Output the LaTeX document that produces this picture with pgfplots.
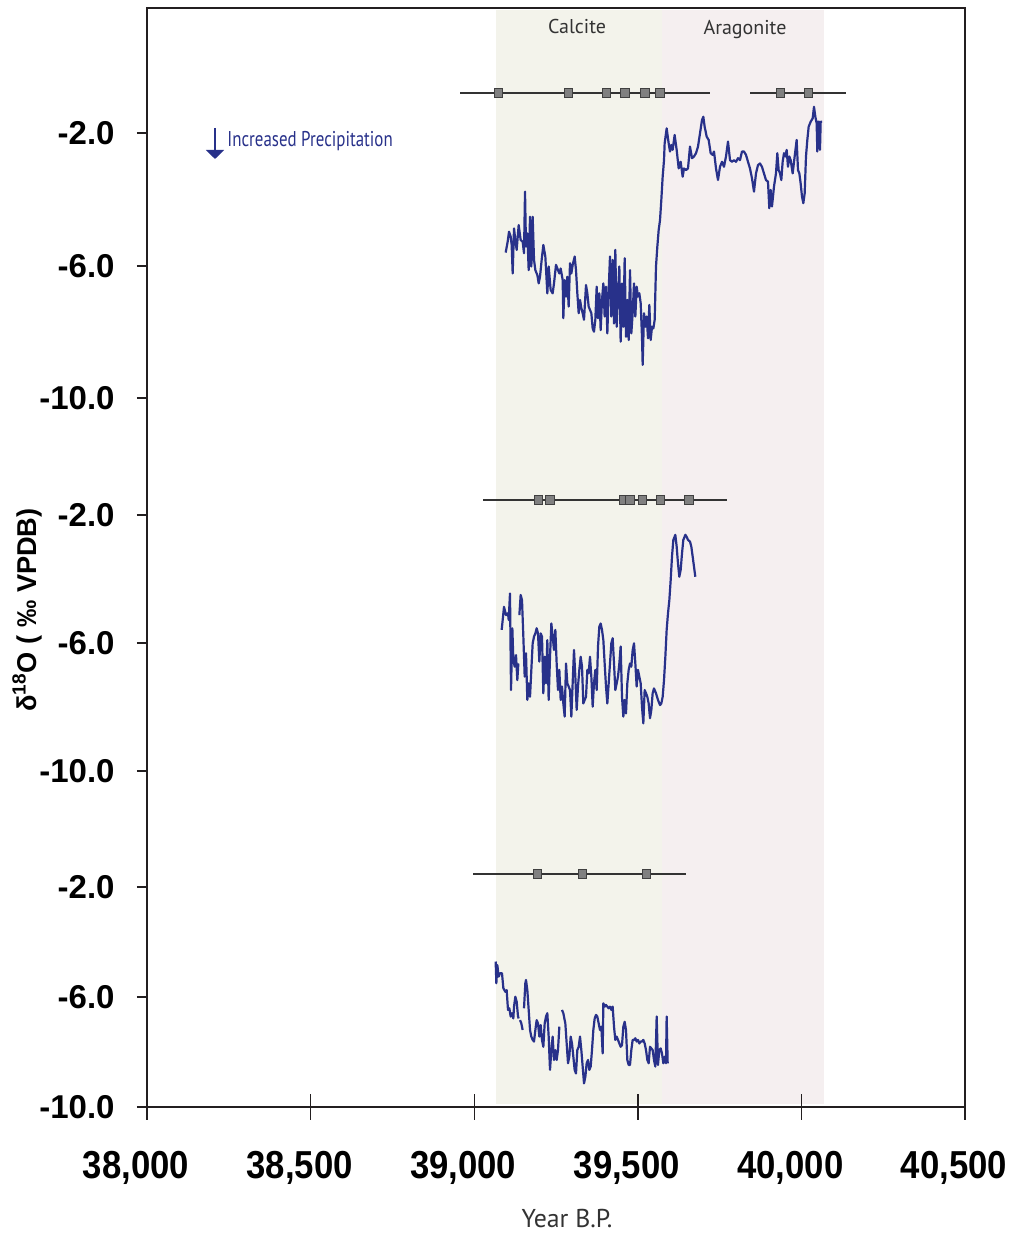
\documentclass[border=0pt]{standalone}
\usepackage{pgfplots}
\pgfplotsset{compat=1.18}
\usepackage{fontspec}
\setmainfont{Liberation Sans}
\newfontfamily\ptsans{PT Sans}
\newfontfamily\ptcond[FakeStretch=0.79]{PT Sans}
\newfontfamily\condsans[FakeStretch=0.89]{Liberation Sans}
\usetikzlibrary{arrows.meta}
\definecolor{lineblue}{RGB}{40,49,138}
\definecolor{calc}{RGB}{243,243,235}
\definecolor{arag}{RGB}{245,239,240}
\definecolor{axc}{RGB}{35,31,32}
\begin{document}
\begin{tikzpicture}
\useasboundingbox (0,0) rectangle (508pt,618pt);
\begin{axis}[
  at={(73.5pt,64.5pt)}, anchor=south west,
  scale only axis, width=409pt, height=549.5pt,
  xmin=38000, xmax=40500, ymin=0, ymax=1099,
  scaled ticks=false,
  axis on top, clip=true,
  axis line style={axc, line width=1.4pt},
  tick style={axc, line width=0.7pt},
  xtick pos=bottom, ytick=\empty,
  xtick={38000,38500,39000,39500,40000,40500},
  xticklabels={{38,000},{38,500},{39,000},{39,500},{40,000},{40,500}},
  xtick align=center, major tick length=13pt,
  xticklabel style={font=\condsans\bfseries\fontsize{19.5}{20}\selectfont, anchor=center, yshift=-24pt, xshift=-5.5pt},
  p1/.style={y filter/.expression={1040.25+33.125*y}},
  p2/.style={y filter/.expression={656+32*y}},
  p3/.style={y filter/.expression={275+27.5*y}},
  dat/.style={lineblue, line width=1.1pt, line join=round},
  err/.style={black!80, line width=0.8pt},
  dm/.style={only marks, mark=square*, mark size=2.1pt, mark options={fill=black!50, draw=black!75, line width=0.5pt}},
]
% shading
\addplot[draw=none, fill=calc] coordinates {(39067,3)(39574,3)(39574,1097)(39067,1097)} -- cycle;
\addplot[draw=none, fill=arag] coordinates {(39574,3)(40069,3)(40069,1097)(39574,1097)} -- cycle;

% ---------- Panel 1 ----------
\addplot[dat, p1] coordinates {
(39096.2,-5.61)(39102.3,-5.28)(39106.4,-4.98)(39111.5,-5.13)(39114.5,-5.38)(39117.6,-6.24)
(39121.7,-4.88)(39125.7,-5.23)(39129.8,-5.53)(39135.9,-4.78)(39142.0,-5.23)(39148.1,-5.28)
(39152.2,-5.63)(39155.3,-3.77)(39158.3,-5.43)(39162.4,-5.03)(39166.5,-6.14)(39170.6,-4.53)
(39174.6,-6.03)(39178.7,-4.53)(39182.8,-5.83)(39186.9,-6.14)(39193.0,-6.29)(39197.1,-6.54)
(39201.1,-6.34)(39206.2,-5.83)(39211.3,-5.38)(39217.4,-5.73)(39223.5,-6.84)(39227.6,-6.03)
(39233.7,-6.74)(39239.8,-6.84)(39243.9,-6.54)(39250.0,-5.98)(39256.1,-6.14)(39260.2,-6.24)
(39264.3,-6.09)(39270.4,-6.44)(39272.4,-7.59)(39276.5,-6.44)(39280.6,-6.94)(39284.6,-6.34)
(39288.7,-7.24)(39292.8,-5.93)(39296.9,-6.24)(39301.0,-5.98)(39307.1,-5.73)(39311.1,-6.14)
(39315.2,-6.84)(39319.3,-7.44)(39323.4,-7.04)(39327.5,-7.29)(39331.5,-7.44)(39335.6,-7.64)
(39341.7,-6.59)(39345.8,-6.84)(39349.8,-7.24)(39353.9,-7.34)(39358.0,-7.44)(39362.1,-7.90)
(39366.1,-8.00)(39370.2,-7.64)(39374.3,-6.64)(39378.4,-7.59)(39382.5,-6.84)(39386.5,-7.95)
(39390.6,-7.04)(39394.7,-6.54)(39398.7,-7.54)(39402.8,-6.64)(39406.9,-8.05)(39411.0,-6.74)
(39415.0,-5.73)(39419.1,-7.54)(39423.2,-5.83)(39427.3,-7.75)(39431.3,-5.53)(39435.4,-7.85)
(39439.5,-6.84)(39443.6,-6.03)(39447.6,-8.30)(39451.7,-6.54)(39455.8,-7.85)(39459.9,-5.78)
(39463.9,-8.15)(39468.0,-7.04)(39472.1,-8.25)(39476.2,-6.14)(39480.2,-8.05)(39484.3,-7.44)
(39488.4,-6.54)(39492.5,-7.54)(39496.5,-6.64)(39500.6,-6.94)(39504.7,-6.84)(39508.8,-7.14)
(39512.8,-8.15)(39514.9,-9.00)(39519.0,-7.44)(39523.0,-7.85)(39527.1,-7.54)(39531.2,-8.20)
(39535.3,-7.19)(39539.3,-8.25)(39543.4,-7.85)(39547.5,-7.90)(39551.6,-7.64)(39555.6,-6.03)
(39559.7,-5.43)(39563.8,-4.93)(39567.9,-4.63)(39571.9,-4.02)(39576.0,-3.32)(39580.1,-2.82)
(39582.1,-2.31)(39588.2,-1.86)(39594.3,-2.31)(39598.4,-2.56)(39602.5,-2.36)(39606.5,-2.51)
(39612.6,-2.06)(39618.8,-2.51)(39624.9,-3.07)(39631.0,-2.87)(39637.1,-3.32)(39641.2,-3.07)
(39647.3,-3.12)(39653.4,-3.07)(39659.5,-2.41)(39665.6,-2.76)(39671.7,-2.71)(39677.9,-2.61)
(39684.0,-2.41)(39690.1,-2.01)(39696.2,-1.61)(39700.3,-1.51)(39704.3,-1.81)(39710.5,-2.11)
(39716.6,-2.21)(39722.7,-2.61)(39728.8,-2.66)(39732.9,-2.56)(39739.0,-3.07)(39745.1,-3.42)
(39751.2,-3.02)(39757.3,-2.87)(39763.4,-3.02)(39769.5,-2.71)(39775.7,-2.26)(39781.8,-2.82)
(39787.9,-2.87)(39794.0,-2.82)(39800.1,-2.87)(39806.2,-2.76)(39812.3,-2.82)(39818.4,-2.56)
(39824.5,-2.56)(39830.6,-2.66)(39836.8,-2.87)(39842.9,-3.07)(39849.0,-3.37)(39855.1,-3.77)
(39861.2,-3.22)(39867.3,-2.97)(39873.4,-2.92)(39879.5,-3.02)(39885.6,-3.22)(39891.7,-3.42)
(39897.9,-3.47)(39901.9,-4.27)(39906.0,-3.72)(39910.1,-4.22)(39916.2,-3.62)(39922.3,-3.22)
(39926.4,-2.61)(39930.5,-3.12)(39934.6,-3.22)(39938.6,-3.42)(39942.7,-2.87)(39946.8,-2.61)
(39950.9,-2.71)(39955.0,-2.51)(39959.0,-3.02)(39963.1,-2.71)(39967.2,-2.82)(39973.3,-3.22)
(39979.4,-2.71)(39985.5,-2.21)(39989.6,-3.12)(39993.7,-3.22)(39997.7,-3.52)(40001.8,-3.92)
(40005.9,-4.12)(40010.0,-3.82)(40014.0,-2.71)(40018.1,-2.21)(40022.2,-1.81)(40028.3,-1.66)
(40034.4,-1.56)(40038.5,-1.21)(40042.6,-1.51)(40046.6,-1.71)(40048.7,-2.56)(40050.7,-1.66)
(40054.8,-1.66)(40056.8,-2.51)(40058.9,-1.66)(40063.0,-1.66)
};
\addplot[err, p1] coordinates {(38956.6,-0.79)(39721.4,-0.79)};
\addplot[err, p1] coordinates {(39842.9,-0.79)(40136.3,-0.79)};
\addplot[dm, p1] coordinates {(39074.9,-0.79)(39288.8,-0.79)(39405.0,-0.79)(39460.9,-0.79)(39522.0,-0.79)(39567.8,-0.79)(39936.7,-0.79)(40021.1,-0.79)};

% ---------- Panel 2 ----------
\addplot[dat, p2] coordinates {
(39084.0,-5.59)(39091.1,-4.87)(39097.2,-5.13)(39103.3,-5.07)(39105.4,-5.28)(39109.4,-4.45)
(39112.5,-7.47)(39116.6,-5.54)(39119.6,-6.53)(39123.7,-6.74)(39127.8,-6.38)(39131.8,-7.16)(39134.9,-6.64)
};
\addplot[dat, p2] coordinates {
(39138.0,-5.13)(39142.0,-4.50)(39146.1,-4.66)(39150.2,-5.80)(39154.3,-7.05)(39158.3,-6.32)
(39162.4,-7.78)(39166.5,-7.26)(39170.6,-7.68)(39174.6,-6.84)(39178.7,-6.01)(39182.8,-5.80)
(39186.9,-5.70)(39190.9,-5.54)(39195.0,-5.70)(39199.1,-6.58)(39203.2,-5.70)(39207.2,-5.80)
(39211.3,-7.57)(39215.4,-6.43)(39219.5,-7.26)(39223.5,-5.91)(39227.6,-7.78)(39231.7,-6.43)
(39235.8,-5.39)(39239.8,-5.80)(39243.9,-6.22)(39248.0,-5.59)(39252.0,-6.64)(39256.1,-7.47)
(39260.2,-6.84)(39264.3,-7.78)(39268.3,-7.36)(39272.4,-7.89)(39276.5,-8.30)(39280.6,-6.64)
(39284.6,-7.26)(39288.7,-7.36)(39292.8,-7.47)(39296.9,-8.30)(39300.9,-7.26)(39305.0,-6.22)
(39309.1,-7.05)(39313.2,-8.09)(39317.2,-7.36)(39321.3,-6.84)(39325.4,-6.43)(39329.5,-6.74)
(39333.5,-7.89)(39337.6,-7.78)(39341.7,-7.68)(39345.8,-6.84)(39349.8,-6.95)(39353.9,-6.43)
(39358.0,-7.05)(39362.1,-7.99)(39366.1,-7.26)(39370.2,-6.84)(39374.3,-7.47)(39378.4,-6.11)
(39382.4,-5.49)(39386.5,-5.39)(39390.6,-5.59)(39394.7,-5.91)(39398.7,-6.64)(39402.8,-7.36)
(39406.9,-7.89)(39411.0,-7.26)(39415.0,-6.64)(39419.1,-6.01)(39423.2,-5.85)(39427.3,-6.64)
(39431.3,-7.47)(39435.4,-7.26)(39439.5,-7.05)(39443.6,-6.64)(39447.6,-6.11)(39451.7,-7.68)
(39455.8,-8.30)(39459.9,-7.78)(39463.9,-8.20)(39468.0,-7.26)(39472.1,-6.84)(39476.2,-6.64)
(39480.2,-6.74)(39484.3,-6.22)(39488.4,-6.01)(39492.5,-6.64)(39496.5,-7.36)(39500.6,-6.84)
(39504.7,-7.05)(39508.8,-7.26)(39512.8,-7.99)(39516.9,-8.51)(39521.0,-7.47)(39525.1,-7.57)
(39529.1,-7.68)(39533.2,-7.89)(39537.3,-8.35)(39541.4,-8.09)(39545.4,-7.57)(39549.5,-7.42)
(39555.6,-7.57)(39561.7,-7.78)(39567.9,-7.94)(39571.9,-7.89)(39576.0,-7.68)(39580.1,-7.16)
(39584.2,-6.43)(39588.2,-5.59)(39592.3,-5.07)(39596.4,-4.66)(39600.5,-4.03)(39604.5,-3.30)
(39608.6,-2.78)(39614.7,-2.62)(39618.8,-2.99)(39622.8,-3.51)(39626.9,-3.93)(39631.0,-3.72)
(39635.1,-3.20)(39639.1,-2.78)(39645.3,-2.62)(39649.3,-2.68)(39653.4,-2.78)(39659.5,-2.83)
(39663.6,-2.99)(39667.7,-3.30)(39671.7,-3.61)(39675.8,-3.93)
};
\addplot[err, p2] coordinates {(39027.8,-1.53)(39771.7,-1.53)};
\addplot[dm, p2] coordinates {(39195.9,-1.53)(39231.6,-1.53)(39455.7,-1.53)(39476.1,-1.53)(39515.0,-1.53)(39568.8,-1.53)(39656.5,-1.53)};

% ---------- Panel 3 ----------
\addplot[dat, p3] coordinates {
(39065.6,-4.71)(39067.7,-5.50)(39070.7,-4.84)(39074.8,-5.26)(39078.9,-5.14)(39085.0,-5.14)
(39089.1,-5.68)(39095.2,-5.81)(39099.2,-5.75)(39103.3,-6.47)(39107.4,-6.41)(39111.5,-6.71)
(39115.5,-6.59)(39119.6,-6.78)(39121.7,-6.35)(39125.7,-5.99)(39129.8,-6.17)(39133.9,-6.71)(39135.9,-6.78)
};
\addplot[dat, p3] coordinates {(39140.0,-6.84)(39144.1,-6.96)(39148.1,-7.20)};
\addplot[dat, p3] coordinates {
(39152.2,-6.41)(39156.3,-5.50)(39158.3,-5.38)(39162.4,-5.75)(39166.5,-6.47)(39170.6,-7.20)
(39174.6,-7.44)(39178.7,-7.56)(39182.8,-7.62)(39186.9,-7.20)(39190.9,-6.84)(39195.0,-6.96)
(39199.1,-7.44)(39203.1,-7.02)(39207.2,-7.56)(39211.3,-7.81)(39215.4,-6.96)(39219.5,-6.71)
(39223.5,-6.59)(39227.6,-7.44)(39231.7,-8.65)(39235.8,-7.93)(39239.8,-7.44)(39243.9,-8.29)
(39248.0,-7.93)(39252.0,-8.29)(39256.1,-7.93)(39260.2,-7.08)
};
\addplot[dat, p3] coordinates {
(39268.3,-6.47)(39272.4,-6.59)(39278.5,-6.96)(39282.6,-7.69)(39286.7,-8.41)(39290.7,-8.17)
(39294.8,-7.44)(39298.9,-7.69)(39303.0,-8.17)(39307.0,-8.65)(39311.1,-8.78)(39315.2,-7.93)
(39319.3,-7.81)(39323.4,-7.44)(39327.4,-7.93)(39331.5,-8.53)(39335.6,-9.14)(39339.7,-8.90)
(39343.7,-8.41)(39347.8,-8.29)(39351.9,-8.65)(39356.0,-8.53)(39360.0,-7.93)(39364.1,-7.20)
(39368.2,-6.78)(39372.3,-6.65)(39376.3,-6.71)(39380.4,-6.96)(39384.5,-7.20)(39388.6,-7.08)
(39392.6,-8.05)(39394.7,-6.23)(39398.8,-6.35)(39402.8,-6.29)(39406.9,-6.35)(39411.0,-6.41)
(39415.0,-6.35)(39419.1,-6.47)(39423.2,-6.35)(39427.3,-7.08)(39431.3,-7.56)(39435.4,-7.44)
(39439.5,-7.56)(39443.6,-7.69)(39447.6,-7.81)(39451.7,-7.75)(39455.8,-7.08)(39459.9,-6.90)
(39463.9,-7.20)(39468.0,-8.29)(39472.1,-8.47)(39476.2,-8.47)(39480.2,-7.93)(39484.3,-7.56)
(39488.4,-7.56)(39492.5,-7.50)(39496.5,-7.62)(39500.6,-7.56)(39504.7,-7.69)(39508.8,-7.62)
(39512.8,-7.62)(39516.9,-7.56)(39521.0,-7.69)(39525.1,-7.93)(39529.1,-8.29)(39533.2,-8.41)
(39537.3,-7.81)(39541.4,-7.87)(39545.4,-7.93)(39549.5,-8.29)(39553.6,-8.53)(39557.7,-6.71)
(39561.7,-8.47)(39565.8,-7.93)(39569.9,-7.87)(39573.9,-8.05)(39578.0,-8.41)(39582.1,-8.17)
(39586.2,-8.41)(39588.2,-6.71)(39591.3,-8.41)
};
\addplot[err, p3] coordinates {(38997.3,-1.53)(39646.3,-1.53)};
\addplot[dm, p3] coordinates {(39194.0,-1.53)(39331.6,-1.53)(39527.2,-1.53)};
\end{axis}
% overlay axis for the y ticks (outside ticks of another length)
\begin{axis}[
  at={(73.5pt,64.5pt)}, anchor=south west,
  scale only axis, width=409pt, height=549.5pt,
  xmin=38000, xmax=40500, ymin=0, ymax=1099,
  scaled ticks=false,
  axis line style={draw=none},
  xtick=\empty, ytick pos=left,
  tick style={axc, line width=0.7pt},
  ytick={974,841,709,592,464,336,220,110,0},
  yticklabels={-2.0,-6.0,-10.0,-2.0,-6.0,-10.0,-2.0,-6.0,-10.0},
  ytick align=outside, major tick length=5pt,
  yticklabel style={font=\bfseries\fontsize{16.5}{18}\selectfont, anchor=east, inner sep=0pt, xshift=-11pt},
]
\end{axis}
% texts outside / annotations (picture coordinates: 1 px = 0.5pt)
\node[rotate=90, font=\bfseries\fontsize{13.6}{15}\selectfont] at (13.5pt,313pt) {δ\textsuperscript{18}O ( ‰ VPDB)};
\node[font=\ptsans\fontsize{12.9}{14}\selectfont, text=black!80] at (283.5pt,8.5pt) {Year B.P.};
\node[font=\ptsans\fontsize{10}{12}\selectfont, text=black!80] at (288.5pt,604.5pt) {Calcite};
\node[font=\ptsans\fontsize{10}{12}\selectfont, text=black!80, anchor=base] at (372.5pt,600.8pt) {Aragonite};
\draw[lineblue, line width=0.7pt, -{Triangle[width=9pt,length=4.5pt]}] (107.5pt,554pt) -- (107.5pt,538.5pt);
\node[anchor=west, inner sep=0pt, font=\ptcond\fontsize{10.7}{12}\selectfont, text=lineblue] at (113.5pt,547.5pt) {Increased Precipitation};
\end{tikzpicture}
\end{document}
